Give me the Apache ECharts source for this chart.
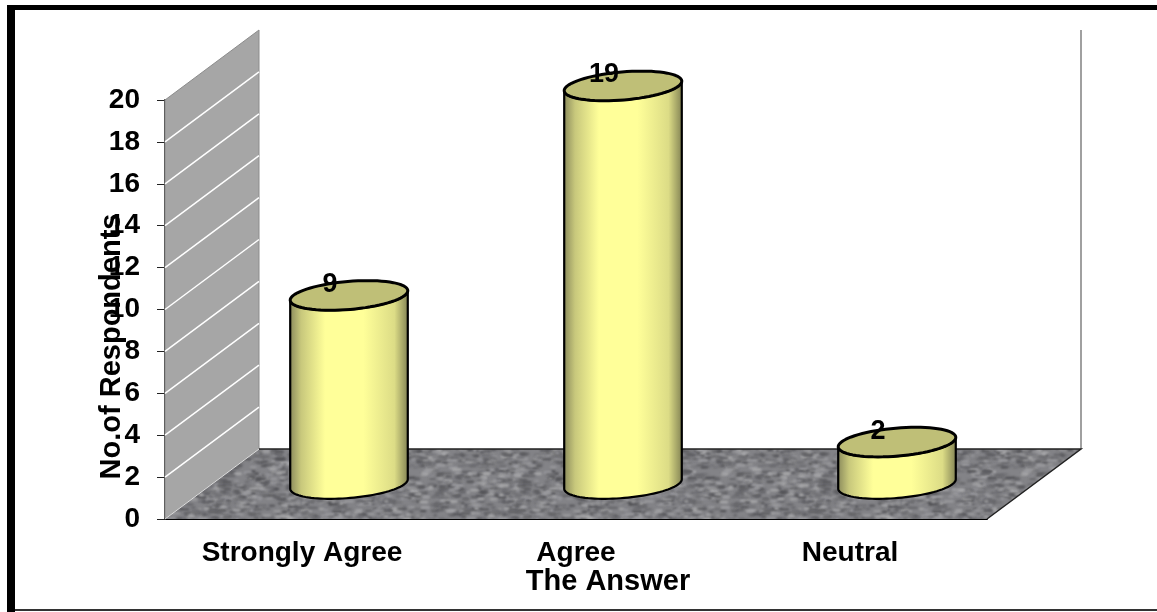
<!DOCTYPE html>
<html>
<head>
<meta charset="utf-8">
<style>
  html, body { margin: 0; padding: 0; background: #fff; }
  #chart { width: 1157px; height: 612px; }
</style>
</head>
<body>
<div id="chart"></div>
<script src="https://cdn.jsdelivr.net/npm/echarts@6/dist/echarts.min.js"></script>
<script>
const categories = ['Strongly Agree', 'Agree', 'Neutral']
const answerValues = [9, 19, 2]
const yTicks = [0, 2, 4, 6, 8, 10, 12, 14, 16, 18, 20]

const FONT = '"Liberation Sans", Arial, sans-serif'
// the fake 3d depth of the chart box
const DEPTH_X = 94
const DEPTH_Y = 70

// speckled floor, fixed seed so it draws the same each time
function floorTexture() {
  const c = document.createElement('canvas')
  c.width = 300
  c.height = 110
  const ctx = c.getContext('2d')
  ctx.fillStyle = '#838387'
  ctx.fillRect(0, 0, c.width, c.height)
  let seed = 12345
  const next = () => {
    seed = (seed * 1103515245 + 12345) & 0x7fffffff
    return seed / 0x7fffffff
  }
  ctx.filter = 'blur(0.8px)'
  const shades = ['#5c5c60', '#6c6c70', '#9e9ea2', '#acacae', '#505054']
  for (let i = 0; i < 2000; i++) {
    ctx.fillStyle = shades[Math.floor(next() * shades.length)]
    const x = next() * c.width
    const y = next() * c.height
    const w = 3 + next() * 7
    const h = 1 + next() * 1.5
    // also draw wrapped so the tile has no seam
    ;[-c.width, 0, c.width].forEach(function (dx) {
      ;[-c.height, 0, c.height].forEach(function (dy) {
        ctx.fillRect(x + dx, y + dy, w, h)
      })
    })
  }
  return c
}
const floorImage = floorTexture()

function renderBox(params, api) {
  const g = params.coordSys
  const left = g.x
  const right = g.x + g.width
  const bottom = g.y + g.height
  const children = []
  // left wall
  children.push({
    type: 'polygon',
    shape: { points: [[left, g.y], [left + DEPTH_X, g.y - DEPTH_Y], [left + DEPTH_X, bottom - DEPTH_Y], [left, bottom]] },
    style: { fill: '#a6a6a6', stroke: '#8c8c8c', lineWidth: 1 }
  })
  // wall gridlines
  yTicks.forEach(function (t) {
    if (t === 0 || t === 20) return
    const y = api.coord([0, t])[1]
    children.push({
      type: 'line',
      shape: { x1: left, y1: y, x2: left + DEPTH_X, y2: y - DEPTH_Y },
      style: { stroke: '#fff', lineWidth: 1.5 }
    })
  })
  // back right edge
  children.push({
    type: 'line',
    shape: { x1: right + DEPTH_X, y1: g.y - DEPTH_Y, x2: right + DEPTH_X, y2: bottom - DEPTH_Y },
    style: { stroke: '#a0a0a0', lineWidth: 2 }
  })
  // floor
  children.push({
    type: 'polygon',
    shape: { points: [[left, bottom], [left + DEPTH_X, bottom - DEPTH_Y], [right + DEPTH_X, bottom - DEPTH_Y], [right, bottom]] },
    style: { fill: { image: floorImage, repeat: 'repeat' }, stroke: null }
  })
  children.push({
    type: 'polyline',
    shape: { points: [[left + DEPTH_X, bottom - DEPTH_Y], [right + DEPTH_X, bottom - DEPTH_Y], [right, bottom]] },
    style: { stroke: '#222', lineWidth: 1.5, fill: null }
  })
  children.push({
    type: 'line',
    shape: { x1: left, y1: bottom, x2: left + DEPTH_X, y2: bottom - DEPTH_Y },
    style: { stroke: '#ddd', lineWidth: 1 }
  })
  return { type: 'group', children: children }
}

function ellipsePoint(cx, cy, t) {
  const a = 59
  const b = 14
  const tilt = -0.085
  return [
    cx + a * Math.cos(t) * Math.cos(tilt) - b * Math.sin(t) * Math.sin(tilt),
    cy + a * Math.cos(t) * Math.sin(tilt) + b * Math.sin(t) * Math.cos(tilt)
  ]
}

function renderCylinder(params, api) {
  const value = api.value(1)
  const top = api.coord([api.value(0), value])
  const base = api.coord([api.value(0), 0])
  const cx = top[0] + DEPTH_X / 2
  const topY = top[1] - DEPTH_Y / 2
  const baseY = base[1] - DEPTH_Y / 2

  const body = []
  for (let i = 0; i <= 48; i++) {
    body.push(ellipsePoint(cx, baseY, (i / 48) * Math.PI))
  }
  for (let i = 48; i >= 0; i--) {
    body.push(ellipsePoint(cx, topY, (i / 48) * Math.PI))
  }
  const lid = []
  for (let i = 0; i < 72; i++) {
    lid.push(ellipsePoint(cx, topY, (i / 72) * Math.PI * 2))
  }

  return {
    type: 'group',
    children: [
      {
        type: 'polygon',
        shape: { points: body },
        style: {
          fill: new echarts.graphic.LinearGradient(0, 0, 1, 0, [
            { offset: 0, color: '#87875a' },
            { offset: 0.1, color: '#c8c87c' },
            { offset: 0.3, color: '#ffff99' },
            { offset: 0.62, color: '#ffff99' },
            { offset: 0.88, color: '#dcdc86' },
            { offset: 1, color: '#7f7f52' }
          ]),
          stroke: '#000',
          lineWidth: 2.2,
          lineJoin: 'round'
        }
      },
      {
        type: 'polygon',
        shape: { points: lid },
        style: { fill: '#bfbf77', stroke: '#000', lineWidth: 3, lineJoin: 'round' }
      },
      {
        type: 'text',
        x: cx - 19,
        y: topY - 11,
        style: {
          text: String(value),
          font: 'bold 27px ' + FONT,
          fill: '#000',
          align: 'center',
          verticalAlign: 'middle'
        }
      }
    ]
  }
}

const chart = echarts.init(document.getElementById('chart'))
const option = {
  animation: false,
  backgroundColor: '#fff',
  grid: { left: 165, right: 170, top: 100, bottom: 93, outerBoundsMode: 'none' },
  // the frame round the picture (no right side in the original)
  graphic: [
    { type: 'rect', shape: { x: 7, y: 5, width: 1150, height: 5 }, style: { fill: '#000' } },
    { type: 'rect', shape: { x: 7, y: 5, width: 8, height: 607 }, style: { fill: '#000' } },
    { type: 'rect', shape: { x: 15, y: 609, width: 1142, height: 2 }, style: { fill: '#333' } }
  ],
  xAxis: {
    type: 'category',
    data: categories,
    name: 'The Answer',
    nameLocation: 'middle',
    nameGap: 48,
    nameMoveOverlap: false,
    nameTextStyle: { color: '#000', fontFamily: FONT, fontWeight: 'bold', fontSize: 29, padding: [0, 0, 0, 64] },
    axisLine: { lineStyle: { color: '#000', width: 2 } },
    axisTick: { length: 8, lineStyle: { color: '#222', width: 1 } },
    axisLabel: { color: '#000', fontFamily: FONT, fontWeight: 'bold', fontSize: 28, margin: 20 },
    splitLine: { show: false }
  },
  yAxis: {
    type: 'value',
    min: 0,
    max: 20,
    interval: 2,
    name: 'No.of Respondents',
    nameLocation: 'middle',
    nameGap: 39,
    nameMoveOverlap: false,
    nameTextStyle: { color: '#000', fontFamily: FONT, fontWeight: 'bold', fontSize: 29, padding: [0, 74, 0, 0] },
    axisLine: { show: true, lineStyle: { color: '#333', width: 2 } },
    axisTick: { show: true, length: 8, lineStyle: { color: '#222', width: 1 } },
    axisLabel: { color: '#000', fontFamily: FONT, fontWeight: 'bold', fontSize: 28, margin: 25 },
    splitLine: { show: false }
  },
  series: [
    {
      type: 'custom',
      name: 'box',
      silent: true,
      z: 1,
      renderItem: renderBox,
      data: [[0, 0]],
      encode: { x: 0, y: 1 }
    },
    {
      type: 'custom',
      name: 'No.of Respondents',
      z: 3,
      renderItem: renderCylinder,
      data: answerValues.map(function (v, i) { return [i, v] }),
      encode: { x: 0, y: 1 }
    }
  ]
}
chart.setOption(option)
</script>
</body>
</html>
